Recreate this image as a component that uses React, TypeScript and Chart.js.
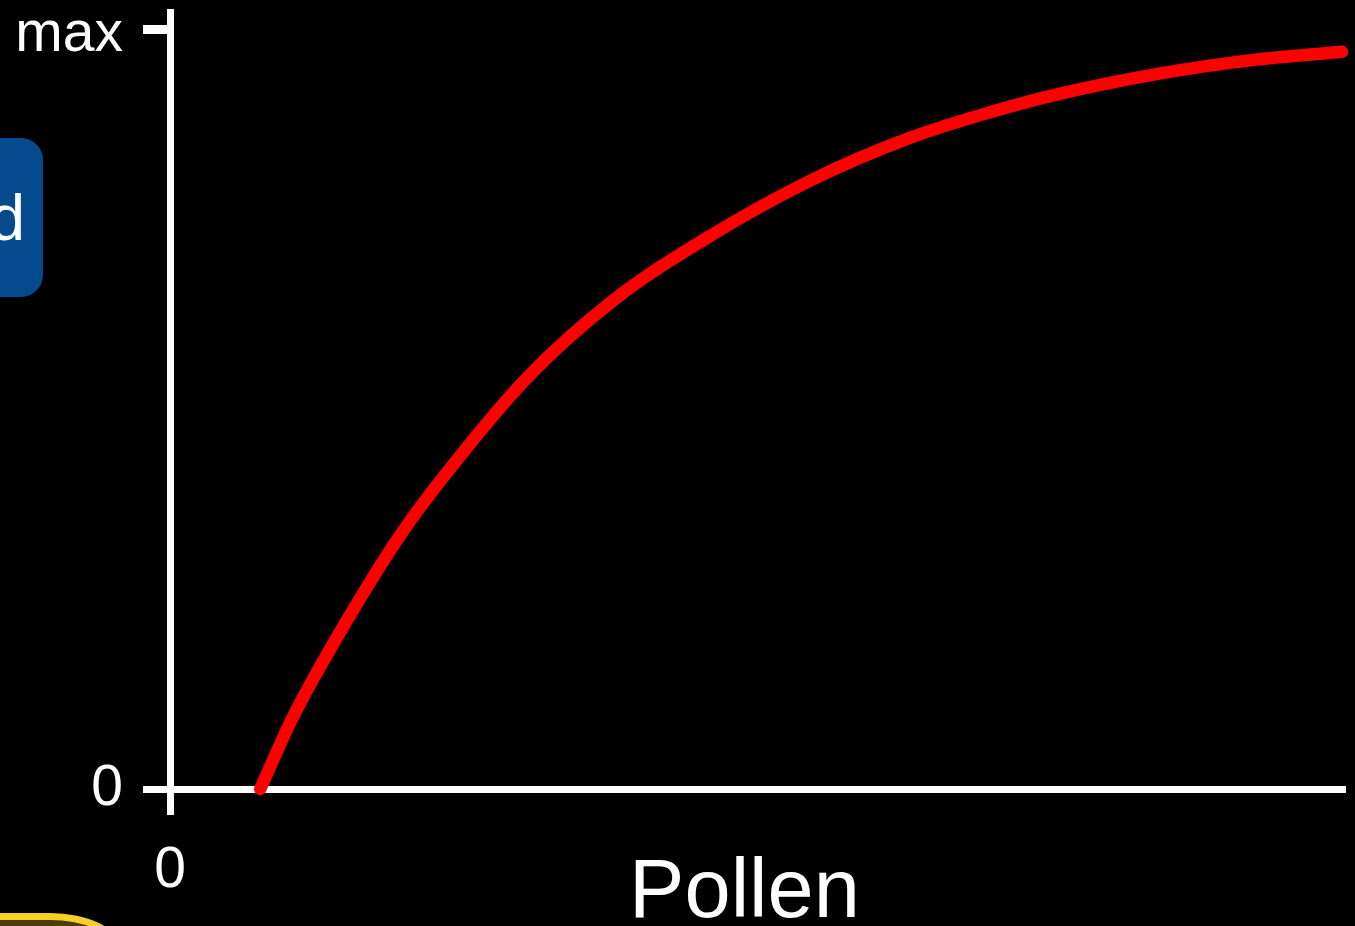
import React, { useEffect, useRef } from "react";
import { Chart, registerables } from "chart.js";

Chart.register(...registerables);

// Pollen (x, relative units 0–100) vs. response (y, 0 … max = 1)
const pollen = [7.7, 10.5, 15.1, 19.6, 23.2, 30.4, 38.0, 46.0, 54.7, 63.0, 69.2, 75.7, 84.3, 92.8, 100];
const response = [0, 0.095, 0.222, 0.333, 0.408, 0.540, 0.645, 0.727, 0.801, 0.856, 0.887, 0.914, 0.941, 0.960, 0.970];

const yTickValues = [0, 1];
const yTickLabels = ["0", "max"];
const xTickValues = [0];
const xTickLabels = ["0"];
const xTitle = "Pollen ";

const FONT = "'Liberation Sans', Arial, sans-serif";

export default function App() {
  const canvasRef = useRef<HTMLCanvasElement | null>(null);

  useEffect(() => {
    const prevMargin = document.body.style.margin;
    document.body.style.margin = "0";
    document.body.style.background = "#000";
    const canvas = canvasRef.current;
    if (!canvas) return;
    const chart = new Chart(canvas, {
      type: "line",
      data: {
        datasets: [
          {
            data: pollen.map((x, i) => ({ x, y: response[i] })),
            borderColor: "#ff0000",
            borderWidth: 12.5,
            pointRadius: 0,
            cubicInterpolationMode: "monotone",
            borderCapStyle: "round",
            borderJoinStyle: "round",
            clip: false as any,
          },
        ],
      },
      options: {
        animation: false,
        responsive: false,
        devicePixelRatio: 1,
        layout: { padding: { top: 12, right: 13, left: 0, bottom: 0 } },
        plugins: { legend: { display: false }, tooltip: { enabled: false }, title: { display: false } },
        scales: {
          x: {
            type: "linear",
            position: "bottom",
            min: 0,
            max: 100,
            afterBuildTicks: (s: any) => {
              s.ticks = xTickValues.map((v) => ({ value: v }));
            },
            afterFit: (s: any) => {
              s.height = 137;
              s.paddingLeft = 0;
              s.paddingRight = 0;
            },
            ticks: {
              color: "#ffffff",
              font: { family: FONT, size: 57 },
              padding: 22,
              maxRotation: 0,
              autoSkip: false,
              callback: (v: any) => xTickLabels[xTickValues.indexOf(Number(v))] ?? "",
            },
            grid: {
              display: true,
              drawOnChartArea: false,
              drawTicks: true,
              tickLength: 26,
              color: "#ffffff",
              lineWidth: 7,
            },
            border: { display: true, color: "#ffffff", width: 7 },
            title: {
              display: true,
              text: xTitle,
              color: "#ffffff",
              font: { family: FONT, size: 83, lineHeight: 0.76 },
              padding: { top: 0, bottom: 0 },
            },
          },
          y: {
            type: "linear",
            min: 0,
            max: 777 / 760,
            afterBuildTicks: (s: any) => {
              s.ticks = yTickValues.map((v) => ({ value: v }));
            },
            afterFit: (s: any) => {
              s.width = 170;
              s.paddingTop = 0;
              s.paddingBottom = 0;
            },
            ticks: {
              color: "#ffffff",
              font: { family: FONT, size: 57, lineHeight: 0.21 },
              padding: 20,
              autoSkip: false,
              callback: (v: any) => {
                const label = yTickLabels[yTickValues.indexOf(Number(v))] ?? "";
                return label === "max" ? ["", label] : label;
              },
            },
            grid: {
              display: true,
              drawOnChartArea: false,
              drawTicks: true,
              tickLength: 27,
              color: "#ffffff",
              lineWidth: (ctx: any) => (ctx.tick && ctx.tick.value === 1 ? 9 : 7),
            },
            border: { display: true, color: "#ffffff", width: 7 },
          },
        },
      },
    });
    return () => {
      chart.destroy();
      document.body.style.margin = prevMargin;
    };
  }, []);

  return (
    <div
      style={{
        position: "fixed",
        left: 0,
        top: 0,
        width: 1355,
        height: 926,
        background: "#000",
        overflow: "hidden",
      }}
    >
      <canvas ref={canvasRef} width={1355} height={926} style={{ position: "absolute", left: 0, top: 0 }} />
      <div
        style={{
          position: "absolute",
          left: -80,
          top: 138,
          width: 123,
          height: 159,
          borderRadius: 22,
          background: "#044b8e",
        }}
      >
        <span
          style={{
            position: "absolute",
            right: 18,
            top: 48,
            fontFamily: FONT,
            fontSize: 64,
            lineHeight: "64px",
            color: "#ffffff",
          }}
        >
          d
        </span>
      </div>
      <div
        style={{
          position: "absolute",
          left: -300,
          top: 913,
          width: 420,
          height: 200,
          boxSizing: "border-box",
          border: "7px solid #f8cf24",
          borderRadius: "70px / 35px",
          background: "#4a3c0b",
        }}
      />
    </div>
  );
}
